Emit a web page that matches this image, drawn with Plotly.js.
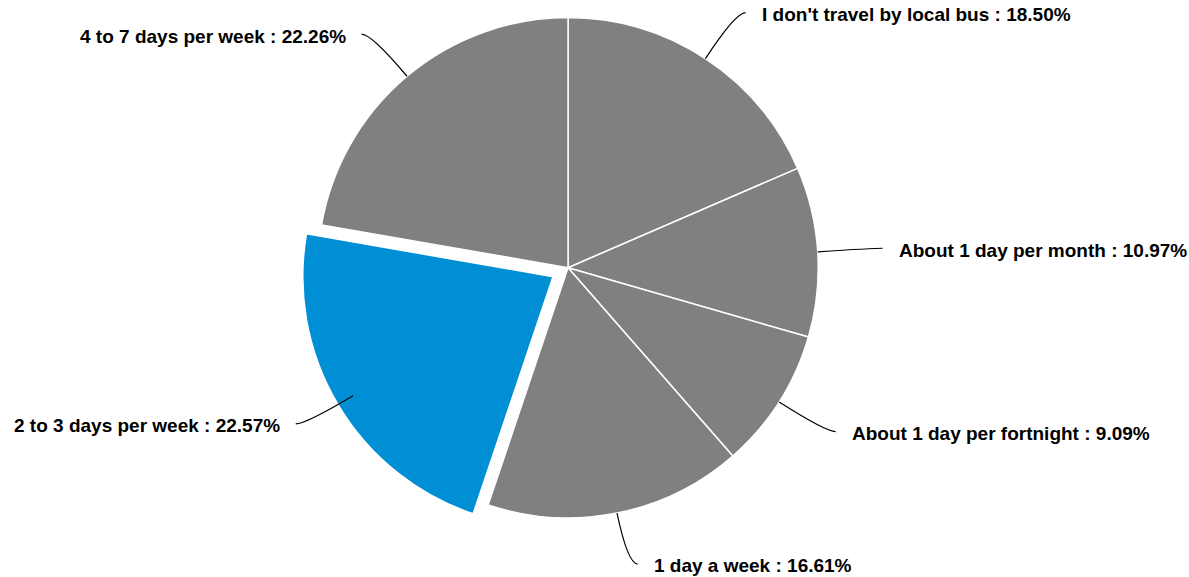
<!DOCTYPE html>
<html>
<head>
<meta charset="utf-8">
<script src="https://cdn.plot.ly/plotly-3.0.1.min.js"></script>
<style>html,body{margin:0;padding:0;background:#fff;}#chart{width:1189px;height:577px;}</style>
</head>
<body>
<div id="chart"></div>
<script>
const categories = ["I don't travel by local bus", "About 1 day per month", "About 1 day per fortnight", "1 day a week", "2 to 3 days per week", "4 to 7 days per week"];
const percents = [18.50, 10.97, 9.09, 16.61, 22.57, 22.26];
const pulls = [0, 0, 0, 0, 0.07, 0];
const colors = ["#808080", "#808080", "#808080", "#808080", "#008fd5", "#808080"];

const W = 1189, H = 577;
const domX = [0.2254, 0.7301], domY = [0.072, 1];
const maxPull = Math.max(...pulls);
const cx = (domX[0] + domX[1]) / 2 * W;
const cy = (1 - (domY[0] + domY[1]) / 2) * H;
const r = Math.min((domX[1] - domX[0]) * W, (domY[1] - domY[0]) * H) / 2 / (1 + maxPull);

const total = percents.reduce((a, b) => a + b, 0);
const shapes = [], annotations = [];
let cum = 0;
const px = x => x / W, py = y => 1 - y / H;
percents.forEach((v, i) => {
  const mid = (cum + v / 2) / total * 2 * Math.PI;
  cum += v;
  const dx = Math.sin(mid), dy = -Math.cos(mid);
  const sign = dx >= 0 ? 1 : -1;
  const p0 = [cx + r * dx, cy + r * dy];
  const p1 = [cx + 1.22 * r * dx, Math.min(cy + 1.22 * r * dy, H - 13)];
  const p2 = [p1[0] + sign * 10, p1[1]];
  shapes.push({
    type: 'path', xref: 'paper', yref: 'paper',
    path: `M ${px(p0[0])},${py(p0[1])} Q ${px(p1[0])},${py(p1[1])} ${px(p2[0])},${py(p2[1])}`,
    line: {color: '#000000', width: 1.2}
  });
  annotations.push({
    xref: 'paper', yref: 'paper', x: px(p2[0] + sign * 14), y: py(Math.min(p2[1] + 2, H - 12)),
    xanchor: sign > 0 ? 'left' : 'right', yanchor: 'middle', showarrow: false,
    text: `<b>${categories[i]} : ${v.toFixed(2)}%</b>`,
    font: {family: 'Liberation Sans, Arial, sans-serif', size: 19, color: '#000000'}
  });
});

const data = [{
  type: 'pie', labels: categories, values: percents, pull: pulls,
  sort: false, direction: 'clockwise', rotation: 0,
  marker: {colors: colors, line: {color: '#ffffff', width: 1.5}},
  textinfo: 'none', hoverinfo: 'label+percent',
  domain: {x: domX, y: domY}
}];
const layout = {
  width: W, height: H, margin: {l: 0, r: 0, t: 0, b: 0},
  showlegend: false, paper_bgcolor: '#ffffff',
  shapes: shapes, annotations: annotations
};
Plotly.newPlot('chart', data, layout, {displayModeBar: false});
</script>
</body>
</html>
